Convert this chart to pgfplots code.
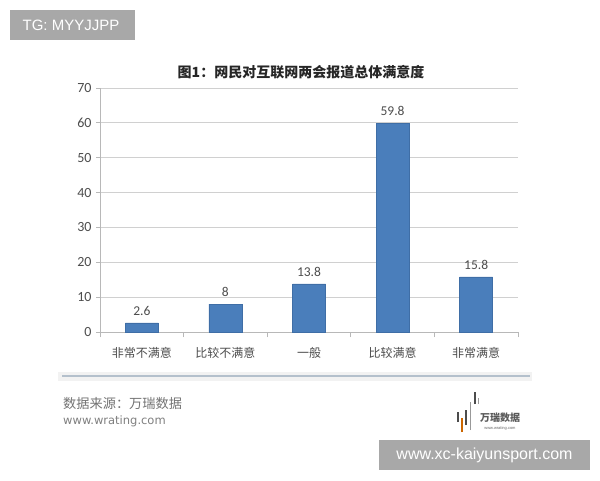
\documentclass[border=0pt]{standalone}
\usepackage{fontspec}
\setmainfont{Carlito}
\newfontfamily\cjk{Noto Sans CJK SC}
\newfontfamily\wm{Liberation Sans}
\newfontfamily\dv{DejaVu Sans}
\usepackage{pgfplots}
\pgfplotsset{compat=1.18}

\definecolor{barblue}{HTML}{4A7EBB}
\definecolor{bardraw}{HTML}{3F6EA6}
\definecolor{txtgray}{HTML}{4D4D4D}
\definecolor{gridgray}{HTML}{D0D0D0}
\definecolor{axgray}{HTML}{B8B8B8}
\definecolor{wmgray}{HTML}{A8A8A8}
\definecolor{sepline}{HTML}{B4C0CC}

\begin{document}
\begin{tikzpicture}[x=1pt,y=1pt]
\fill[white] (0,0) rectangle (600,480);

% title
\node[font=\cjk\bfseries\fontsize{14}{16}\selectfont, text=black!85] at (301,408)
  {图1：网民对互联网两会报道总体满意度};

\begin{axis}[
    at={(100pt,148pt)}, anchor=south west,
    scale only axis,
    width=418pt, height=244pt,
    xmin=-0.5, xmax=4.5,
    ymin=0, ymax=70,
    ytick={0,10,...,70},
    xtick={0,1,2,3,4},
    xticklabels={非常不满意,比较不满意,一般,比较满意,非常满意},
    axis x line*=bottom,
    axis y line*=left,
    axis line style={draw=axgray, line width=0.8pt},
    ymajorgrids,
    grid style={draw=gridgray, line width=0.9pt},
    tick align=outside,
    ytick style={draw=axgray, line width=0.8pt},
    major tick length=4pt,
    xtick style={draw=none},
    extra x ticks={-0.5,0.5,1.5,2.5,3.5,4.5},
    extra x tick labels={},
    extra x tick style={grid=none, xtick style={draw=axgray, line width=0.8pt}, major tick length=5pt},
    xticklabel style={font=\cjk\fontsize{12}{14}\selectfont, text=txtgray, yshift=-8pt},
    yticklabel style={font=\fontsize{14}{16}\selectfont, text=txtgray, xshift=-1pt},
    /pgf/number format/assume math mode=true,
    ybar,
    bar width=33pt,
    nodes near coords,
    every node near coord/.append style={font=\fontsize{13.5}{15}\selectfont, text=txtgray, yshift=4pt},
]
\addplot[fill=barblue, draw=bardraw, line width=0.6pt] coordinates {
    (0,2.6) (1,8) (2,13.8) (3,59.8) (4,15.8)
};
\end{axis}

% footer separator
\fill[black!5] (58,99) rectangle (532,108);
\draw[sepline, line width=2.5pt] (62,104) -- (530,104);

% source
\node[anchor=west, font=\cjk\fontsize{13.2}{15}\selectfont, text=black!55, inner sep=0pt] at (63,77) {数据来源：万瑞数据};
\node[anchor=west, font=\dv\fontsize{11.5}{13}\selectfont, text=black!50, inner sep=0pt] at (63,59) {www.wrating.com};

% logo
\draw[black!70, line width=1.2pt] (458,58) -- (458,68);
\draw[orange!80!black, line width=1.6pt] (462,48) -- (462,62);
\draw[black!70, line width=1.2pt] (466,55) -- (466,70);
\draw[black!40, line width=0.6pt] (470,50) -- (470,78);
\draw[black!70, line width=1.6pt] (475,76) -- (475,88);
\draw[black!40, line width=0.6pt] (478,76) -- (478,82);
\node[font=\cjk\bfseries\fontsize{10}{12}\selectfont, text=black!65] at (500,62) {万瑞数据};
\node[font=\wm\fontsize{4}{5}\selectfont, text=black!60] at (500,52) {www.wrating.com};

% watermarks
\fill[wmgray] (10,440) rectangle (135,470);
\node[font=\wm\fontsize{15}{17}\selectfont, text=white] at (71,455) {TG: MYYJJPP};
\fill[wmgray] (379,10) rectangle (590,40);
\node[font=\wm\fontsize{16}{18}\selectfont, text=white] at (484.5,25) {www.xc-kaiyunsport.com};
\end{tikzpicture}
\end{document}
